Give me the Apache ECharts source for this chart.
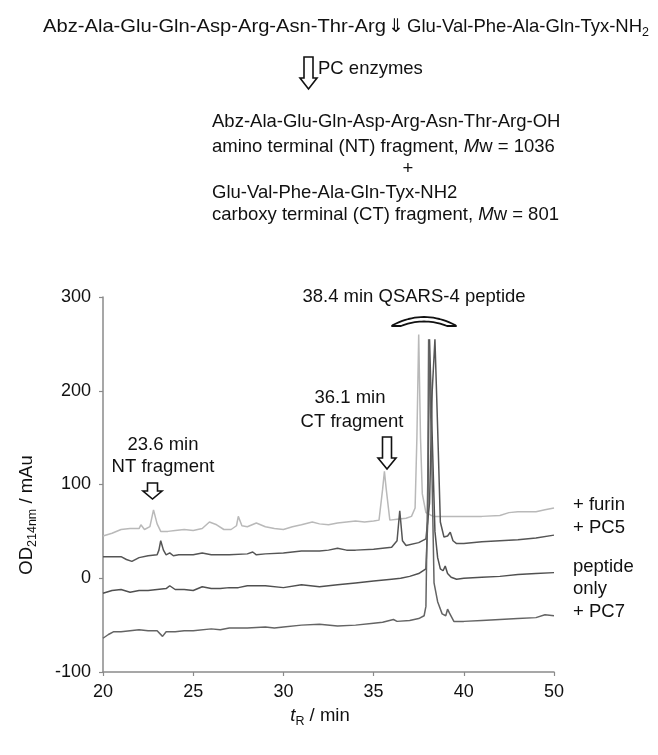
<!DOCTYPE html>
<html>
<head>
<meta charset="utf-8">
<script src="https://cdn.jsdelivr.net/npm/echarts@6/dist/echarts.min.js"></script>
<style>
html, body { margin: 0; padding: 0; background: #fff; }
#chart { width: 658px; height: 755px; }
</style>
</head>
<body>
<div id="chart"></div>
<script>
// tick labels as printed on the figure (last tick reads "50")
var xTickLabels = ["20", "25", "30", "35", "40", "50"];
var yTickValues = [-100, 0, 100, 200, 300];

var traceNames = ["+ furin", "+ PC5", "peptide only", "+ PC7"];

var furinT = [20, 20.5, 21, 21.5, 22, 22.1, 22.3, 22.6, 22.8, 23.0, 23.2, 23.6, 24, 24.5, 25, 25.5, 25.9, 26.3, 26.7, 27.1, 27.4, 27.5, 27.7, 28, 28.5, 29, 29.5, 30, 30.5, 31, 31.6, 32, 32.5, 33, 33.5, 34, 34.5, 35, 35.3, 35.5, 35.6, 35.7, 35.9, 36.3, 36.8, 37.1, 37.3, 37.4, 37.5, 37.6, 37.7, 37.9, 38.3, 39, 40, 41, 42, 42.5, 43, 44, 44.5, 45];
var furinV = [45, 48, 52, 53, 53, 57, 52, 55, 73, 58, 50, 50, 51, 52, 51, 53, 60, 57, 52, 52, 56, 66, 56, 55, 59, 55, 53, 52, 55, 57, 60, 58, 57, 59, 60, 61, 60, 61, 62, 95, 114, 95, 62, 63, 64, 66, 75, 150, 260, 150, 90, 70, 66, 66, 66, 66, 67, 70, 71, 71, 73, 75];

var pc5T = [20, 20.5, 21, 21.3, 21.6, 22, 22.5, 23, 23.1, 23.2, 23.35, 23.5, 23.7, 23.9, 24.2, 25, 25.5, 26, 26.5, 27, 28, 28.3, 28.5, 29, 30, 31, 32, 32.5, 33, 33.5, 34, 35, 36, 36.3, 36.45, 36.6, 36.8, 37.5, 37.9, 38.1, 38.25, 38.4, 38.55, 38.7, 38.9, 39.1, 39.25, 39.4, 39.6, 40, 41, 42, 43, 44, 45];
var pc5V = [23, 23, 23, 20, 18, 22, 24, 25, 30, 40, 30, 25, 27, 24, 25, 25, 27, 25, 25, 25, 26, 28, 25, 26, 27, 29, 29, 30, 32, 30, 30, 31, 33, 40, 72, 40, 35, 38, 42, 80, 200, 255, 160, 60, 44, 45, 49, 40, 37, 37, 39, 40, 41, 43, 46];

var onlyT = [20, 20.5, 21, 21.5, 22, 22.5, 23, 23.5, 23.7, 24, 24.5, 25, 25.5, 26, 26.5, 27, 27.5, 28, 29, 30, 31, 32, 33, 34, 35, 36, 36.5, 37, 37.5, 37.9, 38.0, 38.1, 38.25, 38.4, 38.55, 38.7, 38.85, 38.97, 39.1, 39.3, 39.6, 40, 41, 42, 43, 44, 45];
var onlyV = [-16, -13, -12, -15, -13, -13, -12, -11, -8, -12, -12, -13, -9, -11, -11, -10, -10, -8, -8, -10, -7, -9, -7, -5, -3, -1, 0, 2, 5, 10, 60, 255, 150, 50, 22, 10, 8, 13, 5, 1, -1, 0, 1, 2, 4, 5, 6];

var pc7T = [20, 20.3, 20.6, 21, 21.5, 22, 22.5, 23, 23.3, 23.5, 24, 24.5, 25, 26, 26.5, 27, 28, 29, 29.5, 30, 31, 32, 33, 34, 35, 35.5, 36.1, 36.3, 37, 37.5, 37.8, 37.9, 38.0, 38.05, 38.2, 38.35, 38.55, 38.8, 39.0, 39.1, 39.2, 39.45, 40, 41, 42, 43, 44, 44.5, 45];
var pc7V = [-64, -60, -57, -57, -56, -55, -56, -56, -62, -57, -57, -56, -56, -54, -55, -53, -53, -52, -53, -52, -50, -49, -51, -50, -48, -47, -44, -46, -45, -43, -40, -30, 100, 255, 150, -5, -25, -38, -40, -33, -37, -46, -46, -45, -44, -43, -42, -39, -40];

var traceColors = ["#b9b9b9", "#555555", "#505050", "#646464"];

function pairs(t, v) {
    var out = [];
    for (var i = 0; i < t.length; i++) {
        out.push([t[i], v[i]]);
    }
    return out;
}

var FONT = "'Liberation Sans', Arial, sans-serif";
var FS = 18.5;

function txt(text, x, y, align, extra) {
    var style = {
        text: text,
        x: 0, y: 0,
        fontFamily: FONT,
        fontSize: FS,
        fill: "#111",
        align: align || "left",
        verticalAlign: "middle"
    };
    if (extra) {
        for (var k in extra) style[k] = extra[k];
    }
    return { type: "text", x: x, y: y, style: style, silent: true };
}

function richTxt(text, x, y, align, rotation) {
    return {
        type: "text", x: x, y: y, rotation: rotation || 0, silent: true,
        style: { text: text, rich: richStyles, align: align || "left", verticalAlign: "middle" }
    };
}

var richStyles = {
    n: { fontFamily: FONT, fontSize: FS, lineHeight: 24, fill: "#111", color: "#111" },
    i: { fontFamily: FONT, fontSize: FS, lineHeight: 24, fontStyle: "italic", fill: "#111", color: "#111" },
    s: { fontFamily: FONT, fontSize: 12.5, lineHeight: 13, verticalAlign: "bottom", fill: "#111", color: "#111" }
};

// hollow arrow pointing down
function arrow(cx, top, headTop, tip, shaftW, headW) {
    return {
        type: "polygon",
        silent: true,
        shape: {
            points: [
                [cx - shaftW / 2, top], [cx + shaftW / 2, top],
                [cx + shaftW / 2, headTop], [cx + headW / 2, headTop],
                [cx, tip],
                [cx - headW / 2, headTop], [cx - shaftW / 2, headTop]
            ]
        },
        style: { fill: "#fff", stroke: "#111", lineWidth: 1.6 }
    };
}

// curved bracket over the substrate peaks
function bracket(x0, x1, yBase, rise, thick) {
    var pts = [], n = 20, i, t, x, y;
    var cx = (x0 + x1) / 2;
    pts.push([x0 - 1, yBase + 1]);
    for (i = 0; i <= n; i++) {
        t = i / n;
        x = (1 - t) * (1 - t) * x0 + 2 * t * (1 - t) * cx + t * t * x1;
        y = (1 - t) * (1 - t) * yBase + 2 * t * (1 - t) * (yBase - 2 * rise) + t * t * yBase;
        pts.push([x, y]);
    }
    pts.push([x1 + 1, yBase + 1]);
    for (i = n; i >= 0; i--) {
        t = i / n;
        x = (1 - t) * (1 - t) * (x0 + 8) + 2 * t * (1 - t) * cx + t * t * (x1 - 8);
        y = (1 - t) * (1 - t) * (yBase + 1) + 2 * t * (1 - t) * (yBase - 2 * rise + 2 * thick) + t * t * (yBase + 1);
        pts.push([x, y]);
    }
    return {
        type: "polygon", silent: true,
        shape: { points: pts },
        style: { fill: "#fff", stroke: "#111", lineWidth: 1.8, lineJoin: "round" }
    };
}

var chart = echarts.init(document.getElementById("chart"), null, { renderer: "canvas" });

var option = {
    animation: false,
    backgroundColor: "#fff",
    grid: { left: 103, right: 104, top: 297, bottom: 83 },
    xAxis: {
        type: "value",
        min: 20,
        max: 45,
        interval: 5,
        axisLine: { show: true, onZero: false, lineStyle: { color: "#8a8a8a", width: 1.5 } },
        axisTick: { show: true, length: 4, lineStyle: { color: "#8a8a8a", width: 1.2 } },
        axisLabel: {
            color: "#111", fontFamily: FONT, fontSize: 18, margin: 11,
            formatter: function (v) { return xTickLabels[Math.round((v - 20) / 5)]; }
        },
        splitLine: { show: false }
    },
    yAxis: {
        type: "value",
        min: yTickValues[0],
        max: yTickValues[yTickValues.length - 1],
        interval: 100,
        axisLine: { show: true, onZero: false, lineStyle: { color: "#8a8a8a", width: 1.5 } },
        axisTick: { show: true, length: 4, lineStyle: { color: "#8a8a8a", width: 1.2 } },
        axisLabel: { color: "#111", fontFamily: FONT, fontSize: 18, margin: 12 },
        splitLine: { show: false }
    },
    series: [
        { name: traceNames[0], data: pairs(furinT, furinV) },
        { name: traceNames[1], data: pairs(pc5T, pc5V) },
        { name: traceNames[2], data: pairs(onlyT, onlyV) },
        { name: traceNames[3], data: pairs(pc7T, pc7V) }
    ].map(function (s, i) {
        s.type = "line";
        s.showSymbol = false;
        s.symbol = "none";
        s.lineStyle = { color: traceColors[i], width: 1.5 };
        s.itemStyle = { color: traceColors[i] };
        s.z = i + 2;
        return s;
    }),
    graphic: [
        // reaction scheme
        {
            type: "text", x: 43, y: 27, scaleX: 1.09, silent: true,
            style: { text: "Abz-Ala-Glu-Gln-Asp-Arg-Asn-Thr-Arg", fontFamily: FONT, fontSize: FS, fill: "#111", align: "left", verticalAlign: "middle" }
        },
        txt("\u21D3", 396, 27, "center", { fontFamily: "'DejaVu Sans', sans-serif", fontSize: 19 }),
        richTxt("{n|Glu-Val-Phe-Ala-Gln-Tyx-NH}{s|2}", 407, 27),
        arrow(308.5, 57, 78, 89, 9, 17),
        txt("PC enzymes", 318, 69),
        txt("Abz-Ala-Glu-Gln-Asp-Arg-Asn-Thr-Arg-OH", 212, 122),
        richTxt("{n|amino terminal (NT) fragment, }{i|M}{n|w = 1036}", 212, 147),
        txt("+", 408, 169, "center"),
        txt("Glu-Val-Phe-Ala-Gln-Tyx-NH2", 212, 193),
        richTxt("{n|carboxy terminal (CT) fragment, }{i|M}{n|w = 801}", 212, 215),
        // peak annotations
        txt("38.4 min QSARS-4 peptide", 414, 297, "center"),
        bracket(393, 455, 325, 8, 4),
        txt("36.1 min", 350, 398, "center"),
        txt("CT fragment", 352, 422, "center"),
        arrow(387, 437, 458, 469, 9, 18),
        txt("23.6 min", 163, 445, "center"),
        txt("NT fragment", 163, 467, "center"),
        arrow(152.5, 483, 491, 499, 10, 19),
        // trace labels
        txt("+ furin", 573, 505),
        txt("+ PC5", 573, 528),
        txt("peptide", 573, 567),
        txt("only", 573, 589),
        txt("+ PC7", 573, 612),
        // axis titles
        richTxt("{n|OD}{s|214nm}{n| / mAu}", 27, 515, "center", Math.PI / 2),
        richTxt("{i|t}{s|R}{n| / min}", 320, 716, "center")
    ]
};

chart.setOption(option);
</script>
</body>
</html>
